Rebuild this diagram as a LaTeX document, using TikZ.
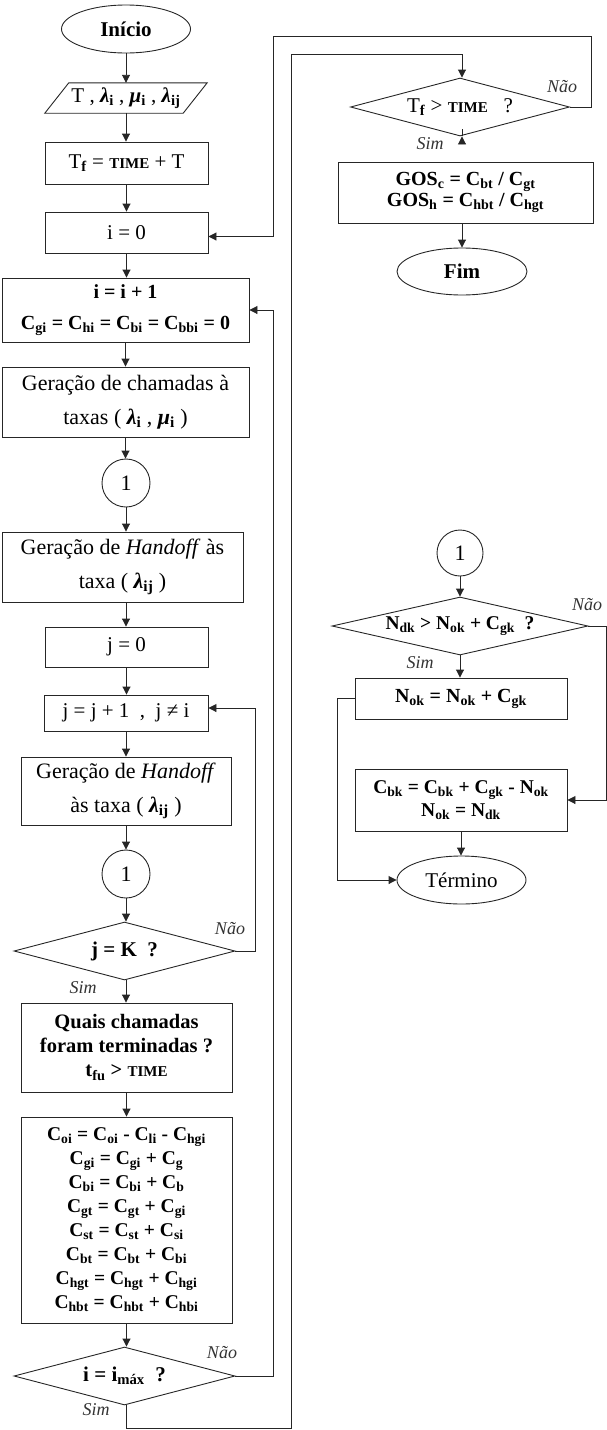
\documentclass[tikz,border=0pt]{standalone}
\usepackage{fontspec}
\setmainfont{Liberation Serif}
\usetikzlibrary{shapes.geometric,arrows.meta,calc}
\newcommand\fsz[2]{\fontsize{#1}{#2}\selectfont}
\newcommand\sbs[1]{\textsubscript{\textbf{#1}}}
\newcommand\lam{\textbf{\textit{λ}}}
\newcommand\mmu{\textbf{\textit{μ}}}
\newcommand\tim{{\fsz{15}{15}\textbf{TIME}}}
\begin{document}
\begin{tikzpicture}[x=1pt,y=-1pt,
  ln/.style={line width=0.9pt, draw=black!85},
  arr/.style={ln, -{Triangle[length=8pt,width=8pt]}},
  box/.style={ln, rectangle, inner sep=0pt, align=center},
  dia/.style={ln, diamond, inner sep=0pt},
  oval/.style={ln, ellipse, inner sep=0pt},
  conn/.style={ln, circle, inner sep=0pt, minimum size=48pt, font=\fsz{22}{22}},
  txt/.style={inner sep=0pt, align=center},
  lbl/.style={inner sep=0pt, font=\fsz{18}{18}\itshape, text=black!80}
]
\useasboundingbox (0,0) rectangle (607,1430);

% ---------------- main column ----------------
\node[oval, minimum width=129pt, minimum height=48pt, font=\fsz{21}{21}\bfseries] (inicio) at (126,29) {Início};
\node[txt, minimum width=138pt, minimum height=30pt, font=\fsz{21}{21}] (inp) at (126,98) {T , \lam\sbs{i} , \mmu\sbs{i} , \lam\sbs{ij}};
\draw[ln] ($(inp.north west)+(12,0)$) -- ($(inp.north east)+(12,0)$) -- ($(inp.south east)+(-12,0)$) -- ($(inp.south west)+(-12,0)$) -- cycle;
\node[box, minimum width=163pt, minimum height=42pt, font=\fsz{21}{21}] (tf) at (126.5,163) {T\sbs{f} = \tim{} + T};
\node[box, minimum width=163pt, minimum height=41pt, font=\fsz{21}{21}] (i0) at (126.5,232.5) {i = 0};
\node[box, minimum width=247pt, minimum height=64pt, font=\fsz{20}{31}\bfseries] (ii1) at (125.5,310) {i = i + 1\\C\sbs{gi} = C\sbs{hi} = C\sbs{bi} = C\sbs{bbi} = 0};
\node[box, minimum width=247pt, minimum height=70pt, font=\fsz{22}{34}] (gch) at (125.5,402) {Geração de chamadas à\\taxas ( \lam\sbs{i} , \mmu\sbs{i} )};
\node[conn] (c1) at (126,483) {1};
\node[box, minimum width=241pt, minimum height=70pt, font=\fsz{22}{34}] (gho) at (122.5,567) {Geração de \textit{Handoff} às\\taxa ( \lam\sbs{ij} )};
\node[box, minimum width=163pt, minimum height=40pt, font=\fsz{21}{21}] (j0) at (126.5,647) {j = 0};
\node[box, minimum width=164pt, minimum height=36pt, font=\fsz{21}{21}] (jj1) at (126,713) {j = j + 1\enspace, \ j ≠ i};
\node[box, minimum width=210pt, minimum height=68pt, font=\fsz{22}{34}] (gho2) at (126,791) {Geração de \textit{Handoff}\\às taxa ( \lam\sbs{ij} )};
\node[conn] (c2) at (126,874) {1};
\node[dia, minimum width=221pt, minimum height=58pt] (djk) at (124.5,951) {};
\node[txt, font=\fsz{21}{21}\bfseries] at (djk) {j = K\enspace ?};
\node[box, minimum width=211pt, minimum height=89pt, font=\fsz{20.5}{24}\bfseries] (quais) at (126.5,1047.5) {Quais chamadas\\foram terminadas ?\\t\sbs{fu} > \tim};
\node[box, minimum width=211pt, minimum height=206pt, font=\fsz{19.5}{24}\bfseries] (big) at (126.5,1220) {%
C\sbs{oi} = C\sbs{oi} - C\sbs{li} - C\sbs{hgi}\\
C\sbs{gi} = C\sbs{gi} + C\sbs{g}\\
C\sbs{bi} = C\sbs{bi} + C\sbs{b}\\
C\sbs{gt} = C\sbs{gt} + C\sbs{gi}\\
C\sbs{st} = C\sbs{st} + C\sbs{si}\\
C\sbs{bt} = C\sbs{bt} + C\sbs{bi}\\
C\sbs{hgt} = C\sbs{hgt} + C\sbs{hgi}\\
C\sbs{hbt} = C\sbs{hbt} + C\sbs{hbi}};
\node[dia, minimum width=221pt, minimum height=58pt] (dimax) at (124.5,1376) {};
\node[txt, font=\fsz{21}{21}\bfseries] at (dimax) {i = i\sbs{máx}\enspace ?};

% ---------------- right column (top) ----------------
\node[dia, minimum width=219pt, minimum height=58pt] (dtf) at (460,107) {};
\node[txt, font=\fsz{21}{21}] at (dtf) {T\sbs{f} > \tim\enspace\ ?};
\node[box, minimum width=255pt, minimum height=61pt, font=\fsz{20}{21}\bfseries] (gos) at (465.5,192.5) {GOS\sbs{c} = C\sbs{bt} / C\sbs{gt}\\GOS\sbs{h} = C\sbs{hbt} / C\sbs{hgt}};
\node[oval, minimum width=130pt, minimum height=47pt, font=\fsz{21}{21}\bfseries] (fim) at (462,271.5) {Fim};

% ---------------- right column (subroutine) ----------------
\node[conn, minimum size=46pt] (c3) at (460,553) {1};
\node[dia, minimum width=256pt, minimum height=58pt] (dnd) at (460,626) {};
\node[txt, font=\fsz{19.5}{20}\bfseries] at (dnd) {N\sbs{dk} > N\sbs{ok} + C\sbs{gk}\enspace ?};
\node[box, minimum width=212pt, minimum height=41pt, font=\fsz{20}{20}\bfseries] (nok) at (461,698.5) {N\sbs{ok} = N\sbs{ok} + C\sbs{gk}};
\node[box, minimum width=212pt, minimum height=62pt, font=\fsz{19.5}{23}\bfseries] (cbk) at (461,800) {C\sbs{bk} = C\sbs{bk} + C\sbs{gk} - N\sbs{ok}\\N\sbs{ok} = N\sbs{dk}};
\node[oval, minimum width=129pt, minimum height=48pt, font=\fsz{21}{21}] (term) at (461.5,880) {Término};

% ---------------- connectors ----------------
\draw[arr] (inicio.south) -- (inicio.south |- inp.north);
\draw[arr] (inp.south) -- (inp.south |- tf.north);
\draw[arr] (tf.south) -- (tf.south |- i0.north);
\draw[arr] (i0.south) -- (i0.south |- ii1.north);
\draw[arr] (ii1.south) -- (ii1.south |- gch.north);
\draw[arr] (gch.south) -- (gch.south |- c1.north);
\draw[arr] (c1.south) -- (c1.south |- gho.north);
\draw[arr] (c1.south |- gho.south) -- (c1.south |- j0.north);
\draw[arr] (j0.south) -- (j0.south |- jj1.north);
\draw[arr] (jj1.south) -- (jj1.south |- gho2.north);
\draw[arr] (gho2.south) -- (gho2.south |- c2.north);
\draw[arr] (c2.south) -- (c2.south |- djk.north);
\draw[arr] (c2.south |- djk.south) -- (c2.south |- quais.north);
\draw[arr] (quais.south) -- (quais.south |- big.north);
\draw[arr] (big.south) -- (big.south |- dimax.north);

\draw[arr] (djk.east) -- ++(20,0) |- ($(jj1.east)+(0,-5)$);
\draw[arr] (dimax.east) -- ++(38,0) |- (ii1.east);

\coordinate (s1) at (291,1428);
\coordinate (s2) at (291,54);
\draw[arr] (c2.south |- dimax.south) |- (s1) -- (s2) -| ($(dtf.north)+(2,0)$);

\coordinate (o1) at (591,36);
\coordinate (o2) at (273,36);
\draw[arr] (dtf.east) -| (o1) -- (o2) |- ($(i0.east)+(0,4)$);

\draw[arr] ($(dtf.south)+(2,0)$) -- ($(dtf.south)+(2,0)$ |- gos.north);
\draw[arr] (fim.north |- gos.south) -- (fim.north);

\draw[arr] (c3.south) -- (c3.south |- dnd.north);
\draw[arr] (dnd.south) -- (dnd.south |- nok.north);
\draw[arr] (dnd.east) -- ++(18,0) |- (cbk.east);
\draw[arr] (nok.west) -- ++(-17,0) |- (term.west);
\draw[arr] (cbk.south) -- (cbk.south |- term.north);

% ---------------- labels ----------------
\node[lbl] at (230,929) {Não};
\node[lbl] at (83,988) {Sim};
\node[lbl] at (222,1353) {Não};
\node[lbl] at (96,1410) {Sim};
\node[lbl] at (562,87) {Não};
\node[lbl] at (430,144) {Sim};
\node[lbl] at (587,605) {Não};
\node[lbl] at (420,663) {Sim};
\end{tikzpicture}
\end{document}
